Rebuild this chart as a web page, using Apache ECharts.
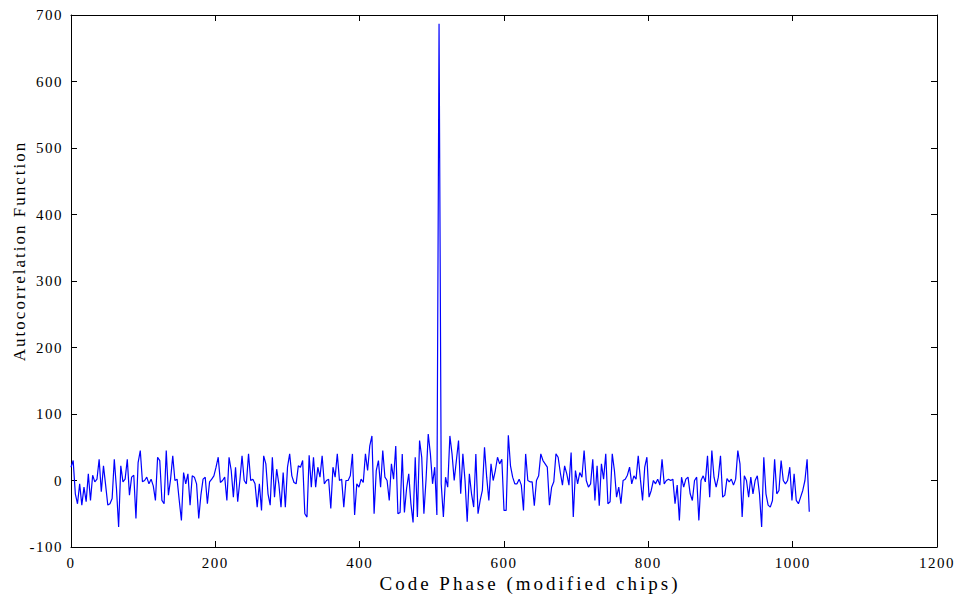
<!DOCTYPE html>
<html><head><meta charset="utf-8">
<script src="https://cdn.jsdelivr.net/npm/echarts@6/dist/echarts.min.js"></script>
<style>html,body{margin:0;padding:0;background:#fff}#c{width:956px;height:596px}</style>
</head><body><div id="c"></div>
<script>
// sampling step of code phase (chips) between stored values
const STEP = 3;
// autocorrelation values, one every STEP chips, starting at 0
const acf = [
 20,30,-20,-35,-5,-37,-10,-32,10,-30,8,-2,2,32,-17,22,-7,-37,-35,-27,32,-12,-70,22,-2,2,32,-22,5,8,-57,27,45,-2,0,
 5,-5,2,-8,-30,35,30,-30,-35,45,-22,2,37,0,2,-30,-60,12,-5,10,-37,7,5,-5,-57,-22,2,5,-35,-2,2,7,20,35,-3,0,
 5,-30,35,15,-25,20,-32,0,37,0,-5,40,0,2,-5,-40,-5,-45,37,25,-20,-37,35,-25,17,-5,-40,12,-40,20,40,7,-3,-5,22,
 20,30,-50,-55,38,-10,35,-10,20,5,37,-5,0,2,-42,20,5,40,0,2,-40,0,0,7,40,-52,-5,-10,2,-3,40,15,52,67,-50,15,30,
 -10,45,5,0,-30,25,2,52,-50,-48,40,-48,-12,10,-35,-63,35,-55,60,35,-50,2,70,40,-5,20,-52,687,-5,-55,5,-10,67,40,0,30,
 60,-20,40,0,-62,10,-20,-40,40,-50,-30,-15,50,5,-30,25,0,15,35,25,32,-45,-45,68,22,5,-5,-5,2,-7,-45,40,0,-2,-2,-38,
 0,7,40,30,25,20,-37,-10,-2,40,35,12,-7,22,10,-7,42,-55,15,-5,12,5,45,0,-10,-5,32,-30,22,-38,25,2,40,-35,-32,40,
 15,-25,-10,-35,0,2,8,20,-5,7,2,37,2,-30,20,35,-25,-15,0,-5,2,-7,32,-5,0,2,0,2,-35,-7,-60,5,-10,2,5,-20,
 -30,0,5,-60,0,7,-2,37,-25,45,5,-10,5,37,-25,-22,3,-2,2,-7,2,45,25,-55,7,0,-25,5,-20,0,7,-20,-70,35,-20,-37,
 -40,-30,32,-20,-15,30,0,-5,0,20,-30,10,-30,-35,-25,-15,0,32,-47
];
const xRange = [0, 1200, 200];
const yRange = [-100, 700, 100];
const xTitle = 'Code Phase (modified chips)';
const yTitle = 'Autocorrelation Function';

const FF = '"Liberation Serif", "Times New Roman", serif';
const chart = echarts.init(document.getElementById('c'), null, {renderer: 'svg'});

function axisBase(show) {
  return {
    axisLine: {show: true, onZero: false, lineStyle: {color: '#000', width: 1}},
    axisTick: {show: true, inside: true, length: 6, lineStyle: {color: '#000', width: 1}},
    axisLabel: {show: show, color: '#000', fontSize: 15, fontFamily: FF, margin: 8, formatter: v => String(v)},
    splitLine: {show: false}
  };
}
const option = {
  animation: false,
  backgroundColor: '#fff',
  grid: {left: 71, right: 19, top: 15, bottom: 49, containLabel: false},
  xAxis: [
    Object.assign({type: 'value', position: 'bottom', min: xRange[0], max: xRange[1], interval: xRange[2]}, axisBase(true)),
    Object.assign({type: 'value', position: 'top', min: xRange[0], max: xRange[1], interval: xRange[2]}, axisBase(false))
  ],
  yAxis: [
    Object.assign({type: 'value', position: 'left', min: yRange[0], max: yRange[1], interval: yRange[2]}, axisBase(true)),
    Object.assign({type: 'value', position: 'right', min: yRange[0], max: yRange[1], interval: yRange[2]}, axisBase(false))
  ],
  series: [{
    type: 'line', xAxisIndex: 0, yAxisIndex: 0, silent: true,
    data: acf.map((v, i) => [i * STEP, v]),
    symbol: 'none', showSymbol: false,
    lineStyle: {color: '#0000ff', width: 1.2},
    itemStyle: {color: '#0000ff'}
  }],
  graphic: [
    {type: 'text', x: 19, y: 251, rotation: Math.PI / 2,
     style: {text: yTitle, font: '17px "Liberation Serif", serif', fill: '#000', align: 'center', verticalAlign: 'middle', textAlign: 'center', textVerticalAlign: 'middle'}},
    {type: 'text', x: 530, y: 583,
     style: {text: xTitle, font: '19px "Liberation Serif", serif', fill: '#000', align: 'center', verticalAlign: 'middle', textAlign: 'center', textVerticalAlign: 'middle'}}
  ]
};
chart.setOption(option);

function spacing() {
  document.querySelectorAll('#c text').forEach(t => {
    const s = t.textContent;
    if (s === xTitle) t.style.letterSpacing = '3px';
    else if (s === yTitle) t.style.letterSpacing = '2px';
    else t.style.letterSpacing = '1.5px';
  });
}
spacing();
chart.on('finished', spacing);
setTimeout(spacing, 50);
</script>
</body></html>
